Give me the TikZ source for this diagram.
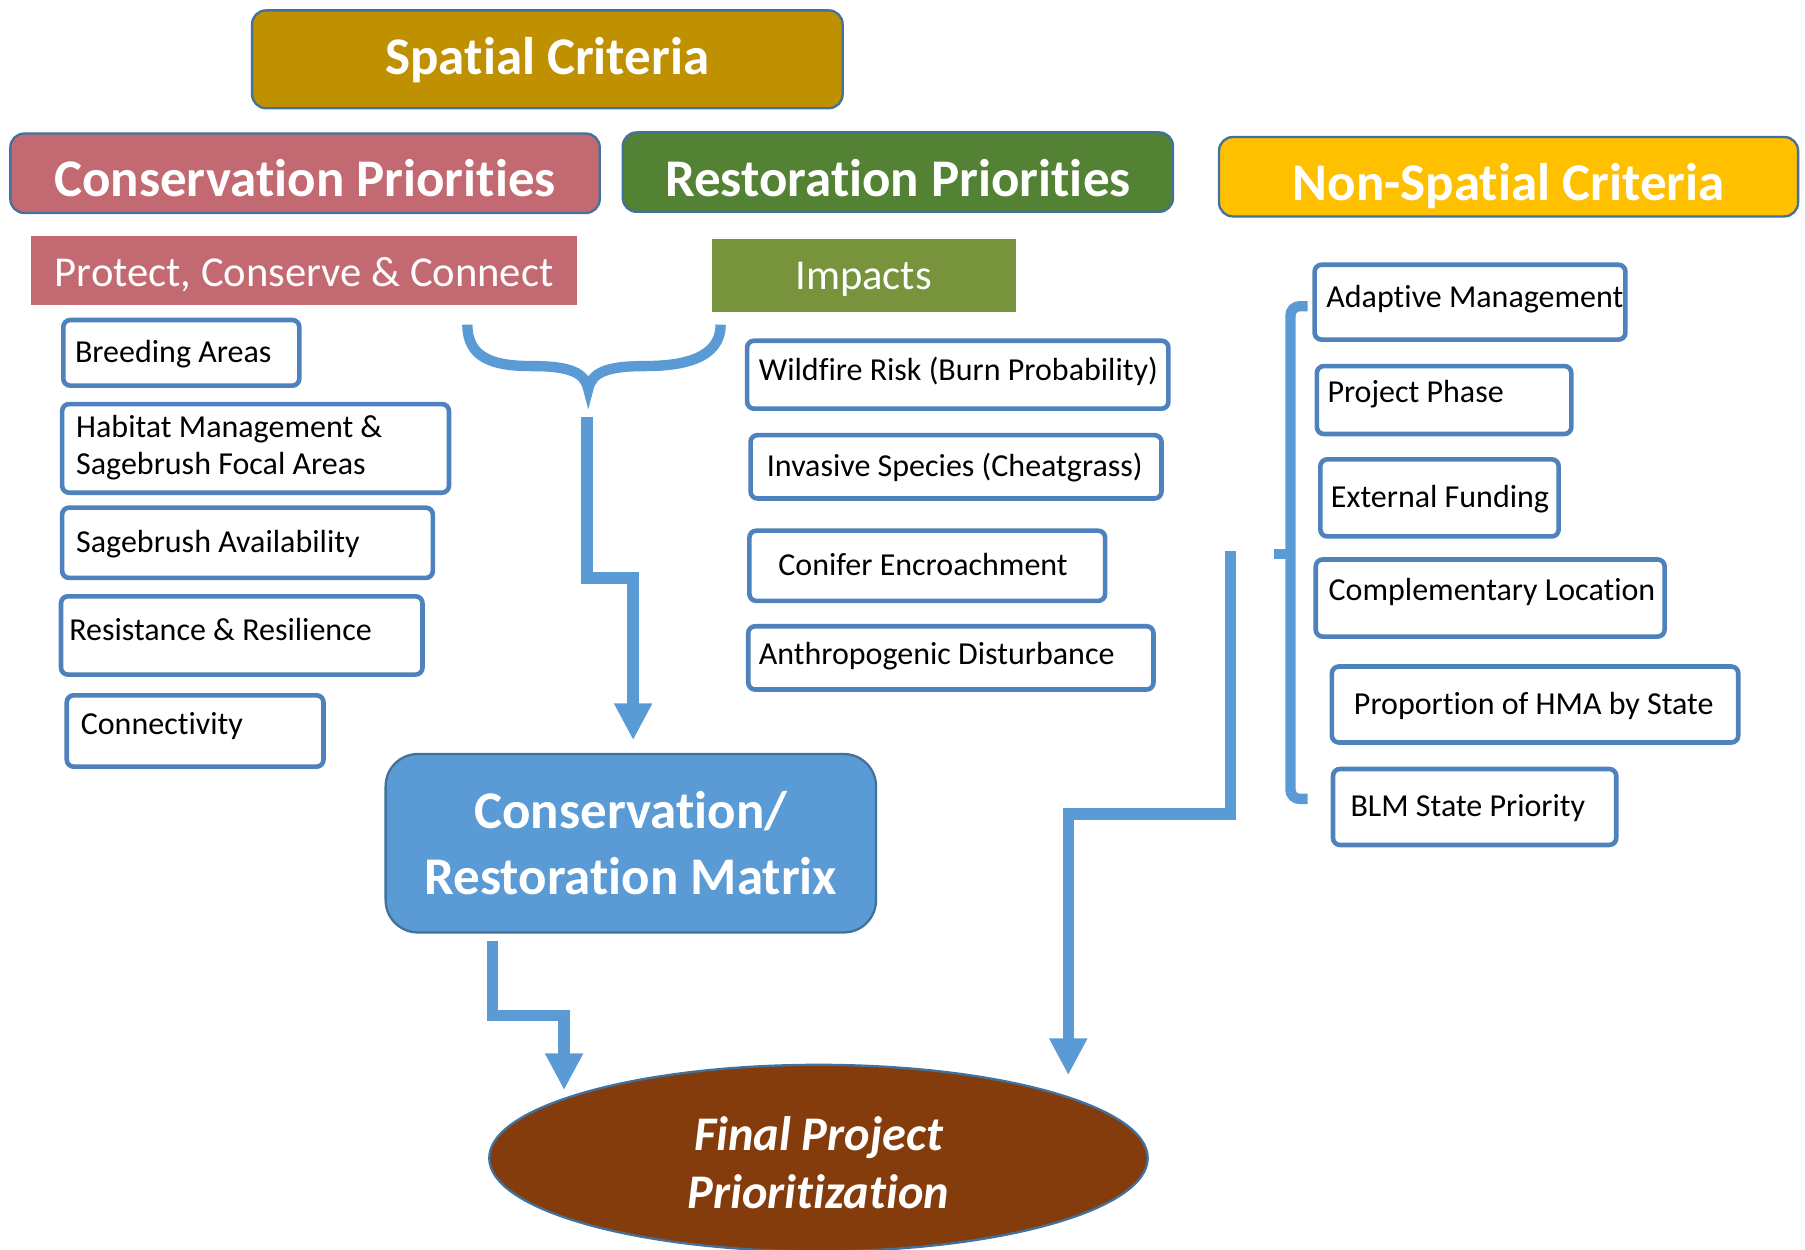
\documentclass[tikz,border=0pt]{standalone}
\usepackage{fontspec}
\setmainfont{Carlito}[Ligatures=NoCommon]
\usetikzlibrary{arrows.meta,shapes.geometric}

\definecolor{spatgold}{RGB}{191,144,0}
\definecolor{conspink}{RGB}{195,105,113}
\definecolor{restgreen}{RGB}{84,130,53}
\definecolor{nonyellow}{RGB}{255,192,0}
\definecolor{impgreen}{RGB}{119,147,60}
\definecolor{edgeblue}{RGB}{65,113,156}
\definecolor{boxblue}{RGB}{79,129,189}
\definecolor{flowblue}{RGB}{91,155,213}
\definecolor{finalbrown}{RGB}{132,60,12}

\tikzset{
  header/.style={draw=edgeblue, line width=2pt, rounded corners=12pt, anchor=north west,
    inner sep=0pt, text=white, font=\bfseries\fontsize{46}{52}\selectfont},
  subheader/.style={anchor=north west, inner sep=0pt, text=white, font=\fontsize{37}{42}\selectfont},
  critbox/.style={draw=boxblue, line width=4pt, fill=white, rounded corners=6pt, anchor=north west},
  crittext/.style={anchor=west, inner sep=0pt, align=left, yshift=-2pt, execute at begin node=\strut,
    font=\fontsize{27.8}{32}\selectfont},
  flow/.style={draw=flowblue, line width=10pt, -{Triangle[width=31pt,length=32pt]}},
  bracket/.style={draw=flowblue, line width=9pt},
}

\begin{document}
\begin{tikzpicture}[x=1pt, y=-1pt]
  \useasboundingbox (0,0) rectangle (1568,1085);
  %
  \node[header, fill=spatgold, minimum width=513pt, text height=56pt, text depth=29pt] (spatial) at (218,8) {Spatial Criteria};
  \node[header, fill=conspink, minimum width=512pt, text height=55pt, text depth=14pt] (conspri) at (8,115) {Conservation Priorities};
  \node[header, fill=restgreen, minimum width=478pt, text height=56pt, text depth=13pt] (restpri) at (540,114) {Restoration Priorities};
  \node[header, fill=nonyellow, minimum width=503pt, text height=55pt, text depth=14pt] (nonspat) at (1058,118) {Non-Spatial Criteria};
  \node[subheader, fill=conspink, minimum width=474pt, text height=44pt, text depth=16pt] (protect) at (27,205) {Protect, Conserve \& Connect};
  \node[subheader, fill=impgreen, minimum width=264pt, text height=44pt, text depth=20pt] (impacts) at (618,207) {Impacts};
  %
  \node[critbox, minimum width=205pt, minimum height=57pt] (breed) at (53,276) {};
  \node[crittext] (breedt) at ([xshift=12pt]breed.west) {Breeding Areas};
  \node[critbox, minimum width=336pt, minimum height=77pt] (habitat) at (52,349) {};
  \node[crittext] (habitatt) at ([xshift=14pt]habitat.west) {Habitat Management \&\\Sagebrush Focal Areas};
  \node[critbox, minimum width=322pt, minimum height=61pt] (sage) at (52,439) {};
  \node[crittext] (saget) at ([xshift=14pt]sage.west) {Sagebrush Availability};
  \node[critbox, minimum width=314pt, minimum height=68pt] (resist) at (51,516) {};
  \node[crittext] (resistt) at ([xshift=9pt,yshift=4pt]resist.west) {Resistance \& Resilience};
  \node[critbox, minimum width=223pt, minimum height=62pt] (connect) at (56,602) {};
  \node[crittext] (connectt) at ([xshift=14pt,yshift=5pt]connect.west) {Connectivity};
  %
  \node[critbox, minimum width=366pt, minimum height=59pt] (wildfire) at (647,294) {};
  \node[crittext] (wildfiret) at ([xshift=12pt,yshift=3pt]wildfire.west) {Wildfire Risk (Burn Probability)};
  \node[critbox, minimum width=357pt, minimum height=55pt] (invasive) at (650,376) {};
  \node[crittext] (invasivet) at ([xshift=16pt]invasive.west) {Invasive Species (Cheatgrass)};
  \node[critbox, minimum width=309pt, minimum height=61pt] (conifer) at (649,459) {};
  \node[crittext] (conifert) at ([xshift=27pt]conifer.west) {Conifer Encroachment};
  \node[critbox, minimum width=352pt, minimum height=55pt] (anthro) at (648,542) {};
  \node[crittext] (anthrot) at ([xshift=11pt,yshift=3pt]anthro.west) {Anthropogenic Disturbance};
  %
  \node[critbox, minimum width=270pt, minimum height=65pt] (adaptive) at (1140,228) {};
  \node[crittext] (adaptivet) at ([xshift=12pt,yshift=4pt]adaptive.west) {Adaptive Management};
  \node[critbox, minimum width=221pt, minimum height=59pt] (phase) at (1142,316) {};
  \node[crittext] (phaset) at ([xshift=11pt,yshift=6pt]phase.west) {Project Phase};
  \node[critbox, minimum width=207pt, minimum height=67pt] (funding) at (1145,397) {};
  \node[crittext] (fundingt) at ([xshift=11pt]funding.west) {External Funding};
  \node[critbox, minimum width=303pt, minimum height=67pt] (complement) at (1141,484) {};
  \node[crittext] (complementt) at ([xshift=13pt,yshift=6pt]complement.west) {Complementary Location};
  \node[critbox, minimum width=353pt, minimum height=66pt] (hma) at (1155,577) {};
  \node[crittext] (hmat) at ([xshift=21pt]hma.west) {Proportion of HMA by State};
  \node[critbox, minimum width=246pt, minimum height=66pt] (blm) at (1156,666) {};
  \node[crittext] (blmt) at ([xshift=17pt]blm.west) {BLM State Priority};
  %
  \node[draw=edgeblue, line width=2pt, fill=flowblue, rounded corners=28pt, minimum width=426pt, minimum height=155pt,
    align=center, text=white, font=\bfseries\fontsize{46}{57}\selectfont] (crmatrix) at (548,732.5) {Conservation/\\Restoration Matrix};
  \node[ellipse, draw=edgeblue, line width=2pt, fill=finalbrown, minimum width=572pt, minimum height=162pt, inner sep=0pt,
    align=center, text=white, font=\bfseries\itshape\fontsize{42}{51}\selectfont] (final) at (711,1006) {};
  \node[align=center, text=white, font=\bfseries\itshape\fontsize{42}{51}\selectfont] (finalt) at ([yshift=-4pt]final.center) {Final Project\\Prioritization};
  %
  \draw[bracket] (406,282) .. controls (406,312) and (430,318) .. (462,318) .. controls (496,318) and (508,324) .. (511,338)
    .. controls (514,324) and (526,318) .. (560,318) .. controls (592,318) and (626,312) .. (626,282);
  \draw[bracket, rounded corners=8pt] (1136,266) -| (1121,694) -- (1136,694);
  \draw[bracket] (1121,481) -- (1107,481);
  %
  \coordinate (m1) at (510,362);
  \coordinate (m2) at (550,643);
  \coordinate (c1) at (428,817);
  \coordinate (c2) at (490,947);
  \coordinate (n1) at (1069,479);
  \coordinate (n2) at (928,934);
  \draw[flow] (m1) -- (510,502) -| (m2);
  \draw[flow] (c1) -- (428,882) -| (c2);
  \draw[flow] (n1) -- (1069,707) -| (n2);
\end{tikzpicture}
\end{document}
